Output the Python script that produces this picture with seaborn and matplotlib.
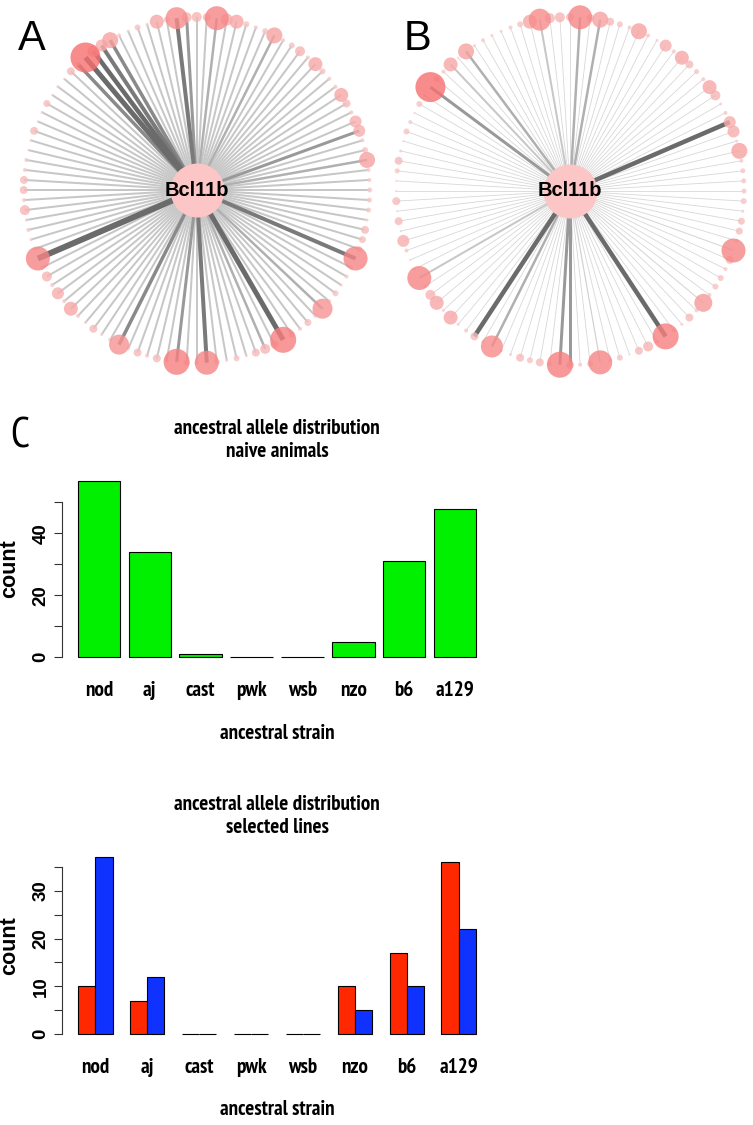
import numpy as np
import pandas as pd
import matplotlib
matplotlib.use('Agg')
import matplotlib.pyplot as plt
import seaborn as sns
from matplotlib import font_manager
from matplotlib.font_manager import FontProperties
from matplotlib.textpath import TextPath

# ---- data ----
strains = ['nod', 'aj', 'cast', 'pwk', 'wsb', 'nzo', 'b6', 'a129']
naive_counts = [57, 34, 1, 0, 0, 5, 31, 48]
selected_red = [10, 7, 0, 0, 0, 10, 17, 36]
selected_blue = [37, 12, 0, 0, 0, 5, 10, 22]

hub_gene = 'Bcl11b'

# partner node radius (px) and edge width (px), 108 partners clockwise from the top
node_size_a = [5, 4, 12, 6, 7, 3, 2, 3, 8, 2, 3, 5,
               2, 7, 3, 2, 2, 7, 4, 2, 6, 6, 2, 3,
               8, 2, 2, 2.5, 2.5, 2.5, 1.5, 4, 3.5, 3, 12, 2,
               2, 1.5, 3, 2, 10, 2, 3.5, 2, 3, 13, 4, 5,
               4, 1.5, 3, 1.5, 3, 12, 2, 3, 13, 2, 4, 2,
               4, 1.5, 10, 2, 1.5, 4, 1.5, 2, 7, 2, 6, 2,
               5, 2, 12, 1.5, 1.5, 2, 1.5, 5, 2, 4, 4, 2,
               2, 1, 1.5, 4, 1, 1.5, 3.5, 1, 1.5, 1, 4, 2,
               15, 6, 6, 8, 2, 1.5, 3, 1.5, 7, 3, 11, 5]
edge_width_a = [2, 2, 2.5, 2, 2, 2, 2, 2, 2.5, 2, 2, 2,
                2, 2, 2, 2, 2, 2, 2, 2, 2, 3, 2, 2,
                2.5, 2, 2, 2, 2, 2, 2, 2, 2, 2, 4, 2,
                2, 2, 2, 2, 2.5, 2, 2, 2, 2, 5, 2, 2.5,
                2, 2, 2, 2, 2, 4, 2, 2, 3, 2, 2, 2,
                2, 2, 3.5, 2, 2, 2, 2, 2, 2, 2, 2, 2,
                2, 2, 6, 2, 2, 2, 2, 2, 2, 2, 2, 2,
                2, 2, 2, 2, 2, 2, 2, 2, 2, 2, 2, 3.5,
                5, 4.5, 4, 3.5, 2, 2, 2, 2, 2, 2, 4, 3]
node_size_b = [4, 12, 4, 8, 4, 3, 2, 8, 2, 1.5, 6, 2,
               7, 4, 2.5, 2, 7, 5, 1.5, 2, 6, 6, 1.5, 8,
               2, 2.5, 2.5, 2.5, 3, 1.5, 3.5, 3.5, 2, 12, 4, 2,
               3, 3, 2, 9, 2, 4, 1.5, 2, 13, 2, 5, 4,
               1, 3, 2, 12, 3, 2, 4, 13, 2, 4, 3, 4,
               1.5, 1.5, 11, 1.5, 4, 2, 1.5, 7, 1.5, 7, 5, 1.5,
               12, 1.5, 1, 2, 6, 1, 4, 1, 4, 1, 1, 2.5,
               4, 1.5, 1, 3, 2, 1, 3, 1.5, 15, 3, 2, 7,
               1, 8, 1.5, 2, 1.5, 1.5, 2, 3, 7, 11, 5, 5]
edge_width_b = [0.8, 2.5, 0.8, 2.5, 0.8, 0.8, 0.8, 0.8, 0.8, 0.8, 0.8, 0.8,
                0.8, 0.8, 0.8, 0.8, 0.8, 0.8, 0.8, 0.8, 4.5, 0.8, 0.8, 0.8,
                0.8, 0.8, 0.8, 0.8, 0.8, 0.8, 0.8, 0.8, 0.8, 1, 0.8, 0.8,
                0.8, 0.8, 0.8, 1, 0.8, 0.8, 0.8, 0.8, 4.5, 0.8, 0.8, 0.8,
                0.8, 0.8, 0.8, 1.2, 0.8, 0.8, 3, 3, 0.8, 0.8, 0.8, 0.8,
                0.8, 0.8, 2.5, 0.8, 4.5, 0.8, 0.8, 0.8, 0.8, 0.8, 0.8, 0.8,
                2, 0.8, 0.8, 0.8, 0.8, 0.8, 0.8, 0.8, 0.8, 0.8, 0.8, 0.8,
                0.8, 0.8, 0.8, 0.8, 0.8, 0.8, 0.8, 0.8, 3, 0.8, 0.8, 2,
                0.8, 2.5, 0.8, 0.8, 0.8, 0.8, 0.8, 0.8, 0.8, 2, 0.8, 0.8]

# ---- fonts ----
sns.set_style('ticks')


def _wt(w):
    if isinstance(w, str):
        return font_manager.weight_dict.get(w, 400)
    return w


bold_families = {f.name for f in font_manager.fontManager.ttflist if _wt(f.weight) >= 600}
NARROW = 'Liberation Sans'
for cand in ['Nimbus Sans Narrow', 'Liberation Sans Narrow', 'Arial Narrow',
             'PT Sans Narrow', 'Roboto Condensed', 'Fira Sans Condensed',
             'IBM Plex Sans Condensed', 'Encode Sans Condensed', 'Asap Condensed']:
    if cand in bold_families:
        NARROW = cand
        break
# size the narrow bold text so the title is about as wide as in the original
_w = TextPath((0, 0), 'ancestral allele distribution', size=100,
              prop=FontProperties(family=NARROW, weight='bold')).get_extents().width
NSIZE = float(np.clip(100 * 205 * 0.72 / _w, 11, 15.5))

plt.rcParams['font.family'] = ['Liberation Sans', 'DejaVu Sans']
plt.rcParams.update({'text.color': 'black', 'axes.labelcolor': 'black',
                     'xtick.color': 'black', 'ytick.color': 'black'})

W, H = 753, 1125
fig = plt.figure(figsize=(W / 100, H / 100), dpi=100)


def px_rect(left, top, w, h):
    return [left / W, 1 - (top + h) / H, w / W, h / H]


def draw_network(ax, sizes, widths, radius):
    sizes = np.array(sizes, dtype=float)
    widths = np.array(widths, dtype=float)
    n = len(sizes)
    theta = np.deg2rad(90 - np.arange(n) * 360 / n)
    xs, ys = radius * np.cos(theta), radius * np.sin(theta)
    greys = np.interp(widths, [0.8, 2, 3, 4.5, 6], [0.84, 0.78, 0.60, 0.42, 0.42])
    for i in np.argsort(widths):
        ax.plot([0, xs[i]], [0, ys[i]], color=str(greys[i]), lw=widths[i] * 0.72,
                solid_capstyle='butt', zorder=1)
    t = np.clip((sizes - 1.5) / 13.5, 0, 1)
    colors = [(0.97, 0.80 - 0.36 * v, 0.80 - 0.36 * v) for v in t]
    order = np.argsort(sizes)
    ax.scatter(xs[order], ys[order], s=(2 * sizes[order] * 0.72) ** 2,
               c=[colors[i] for i in order], alpha=0.8, linewidths=0, zorder=2)
    ax.scatter([0], [0], s=(2 * 27 * 0.72) ** 2, color='#fcc6c6', linewidths=0, zorder=3)
    ax.text(0, 0, hub_gene, ha='center', va='center', fontsize=14.5,
            fontweight='bold', zorder=4)
    ax.axis('off')


# A
ax_a = fig.add_axes(px_rect(0, 0, 376, 380))
draw_network(ax_a, node_size_a, edge_width_a, 173)
ax_a.set_xlim(-196.7, 179.3)
ax_a.set_ylim(-190, 190)

# B
ax_b = fig.add_axes(px_rect(376, 0, 377, 380))
draw_network(ax_b, node_size_b, edge_width_b, 174)
ax_b.set_xlim(-194, 183)
ax_b.set_ylim(-189, 191)


def style_bars(ax, title, ymax, step, label_step, ylim, xlim, xlab_y):
    sns.despine(ax=ax, bottom=True)
    ax.spines['left'].set_bounds(0, ymax)
    ax.spines['left'].set_color('#333333')
    ax.spines['left'].set_linewidth(0.8)
    ticks = np.arange(0, ymax + 1, step)
    ax.set_yticks(ticks)
    ax.set_yticklabels([str(v) if v % label_step == 0 else '' for v in ticks],
                       fontsize=13.5, fontweight='bold', rotation=90, va='center')
    ax.tick_params(axis='y', left=True, length=6, width=0.8, color='#333333', pad=3)
    ax.tick_params(axis='x', bottom=False, length=0, pad=12)
    for lab in ax.get_xticklabels():
        lab.set_fontfamily(NARROW)
        lab.set_fontsize(NSIZE)
        lab.set_fontweight('bold')
    ax.set_ylim(*ylim)
    ax.set_xlim(*xlim)
    ax.set_ylabel('count', fontsize=15.5, fontweight='bold')
    ax.yaxis.set_label_coords(-0.1226, 0.5)
    ax.yaxis.label.set_va('center')
    ax.set_xlabel('ancestral strain', fontsize=NSIZE, fontweight='bold', family=NARROW)
    ax.xaxis.set_label_coords(0.5, xlab_y)
    ax.xaxis.label.set_va('top')
    ax.set_title(title, fontsize=NSIZE, fontweight='bold', family=NARROW,
                 linespacing=1.3, pad=12)


# C: naive animals
naive_df = pd.DataFrame({'strain': strains, 'count': naive_counts})
ax_n = fig.add_axes(px_rect(62, 473.8, 430, 190.2))
sns.barplot(data=naive_df, x='strain', y='count', order=strains, color='#00f000',
            saturation=1, width=0.833, edgecolor='black', linewidth=0.8,
            errorbar=None, ax=ax_n)
style_bars(ax_n, 'ancestral allele distribution\nnaive animals', 50, 10, 20,
           (-2.28, 59.28), (-0.725, 7.725), -0.315)

# C: selected lines
sel_df = pd.DataFrame({
    'strain': strains * 2,
    'count': selected_red + selected_blue,
    'line': ['red line'] * len(strains) + ['blue line'] * len(strains),
})
ax_s = fig.add_axes(px_rect(62, 850, 430, 191.4))
sns.barplot(data=sel_df, x='strain', y='count', hue='line', order=strains,
            palette=['#ff2800', '#0f32ff'], saturation=1, width=0.667,
            edgecolor='black', linewidth=0.8, errorbar=None, legend=False, ax=ax_s)
style_bars(ax_s, 'ancestral allele distribution\nselected lines', 35, 5, 10,
           (-1.48, 38.48), (-0.64, 7.64), -0.307)

# panel letters
fig.text(18 / W, 1 - 50 / H, 'A', fontsize=30, va='baseline')
fig.text(404 / W, 1 - 50 / H, 'B', fontsize=30, va='baseline')
fig.text(10 / W, 1 - 448 / H, 'C', fontsize=30, va='baseline', family=NARROW)

fig.savefig('out.png', dpi=100)
